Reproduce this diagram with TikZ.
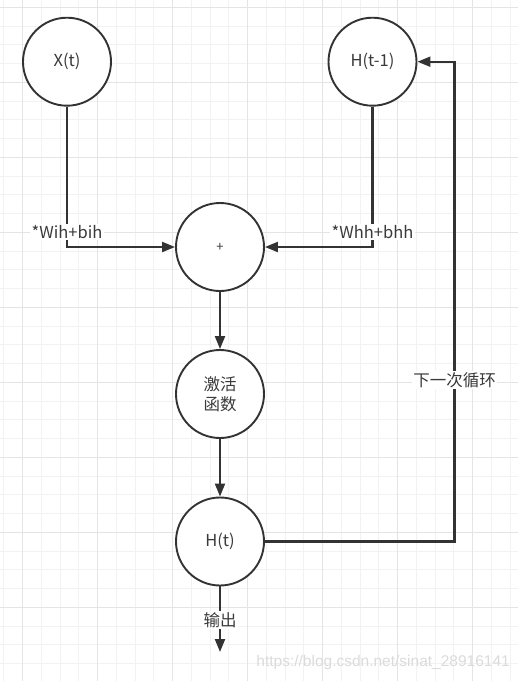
\documentclass[tikz,border=0pt]{standalone}
\usepackage{fontspec}
\setmainfont{Noto Sans CJK SC}
\newfontfamily\markfont{Liberation Sans}
\usetikzlibrary{arrows.meta}
\definecolor{linegray}{HTML}{333333}
\definecolor{textgray}{HTML}{3A3A3A}
\definecolor{gridminor}{HTML}{F2F2F2}
\definecolor{gridmajor}{HTML}{E4E4E4}
\tikzset{
    unit/.style={circle,draw=linegray,line width=1.9pt,fill=white,
        minimum size=88pt,inner sep=0pt,text=textgray,
        font=\fontsize{16.5}{20}\selectfont},
    flow/.style={draw=linegray,line width=2.1pt,
        -{Triangle[length=13pt,width=10pt]}},
    weight/.style={fill=white,inner sep=1.5pt,text=textgray,
        font=\fontsize{16.5}{19}\selectfont},
}
\begin{document}
\begin{tikzpicture}[x=1pt,y=-1pt]
    \useasboundingbox (0,0) rectangle (518,681);
    %% background grid
    \fill[white] (0,0) rectangle (518,681);
    \foreach \x in {0,...,27}
        \draw[gridminor,line width=1pt] (3.95+18.75*\x,0) -- ++(0,681);
    \foreach \y in {0,...,36}
        \draw[gridminor,line width=1pt] (0,7.3+18.75*\y) -- ++(518,0);
    \foreach \x in {0,...,6}
        \draw[gridmajor,line width=1pt] (22.7+75*\x,0) -- ++(0,681);
    \foreach \y in {0,...,8}
        \draw[gridmajor,line width=1pt] (0,7.3+75*\y) -- ++(518,0);
    %% units
    \node[unit] (xt) at (67,61.7) {X(t)};
    \node[unit] (hprev) at (372.5,61.7) {H(t-1)};
    \node[unit,font=\fontsize{13}{15}\selectfont] (sum) at (220,247) {+};
    \node[unit,align=center] (act) at (220,394) {激活\\函数};
    \node[unit] (ht) at (220,541.5) {H(t)};
    \coordinate (turn) at (454.5,541.5);
    \coordinate (out) at (220,652);
    %% connections
    \draw[flow] (xt.south) |- (sum.west) node[weight,pos=0.447] {*Wih+bih};
    \draw[flow] (hprev.south) |- (sum.east) node[weight,pos=0.447] {*Whh+bhh};
    \draw[flow] (sum) -- (act);
    \draw[flow] (act) -- (ht);
    \draw[flow] (ht.east) -- (turn) |- (hprev.east) node[weight,pos=0.168] {下一次循环};
    \draw[flow] (ht.south) -- (out) node[weight,pos=0.515] {输出};
    %% watermark
    \node[anchor=east,inner sep=0pt,text=black!14,font=\markfont\fontsize{15.5}{18}\selectfont]
        (mark) at (510,662.5) {https://blog.csdn.net/sinat\_28916141};
\end{tikzpicture}
\end{document}
